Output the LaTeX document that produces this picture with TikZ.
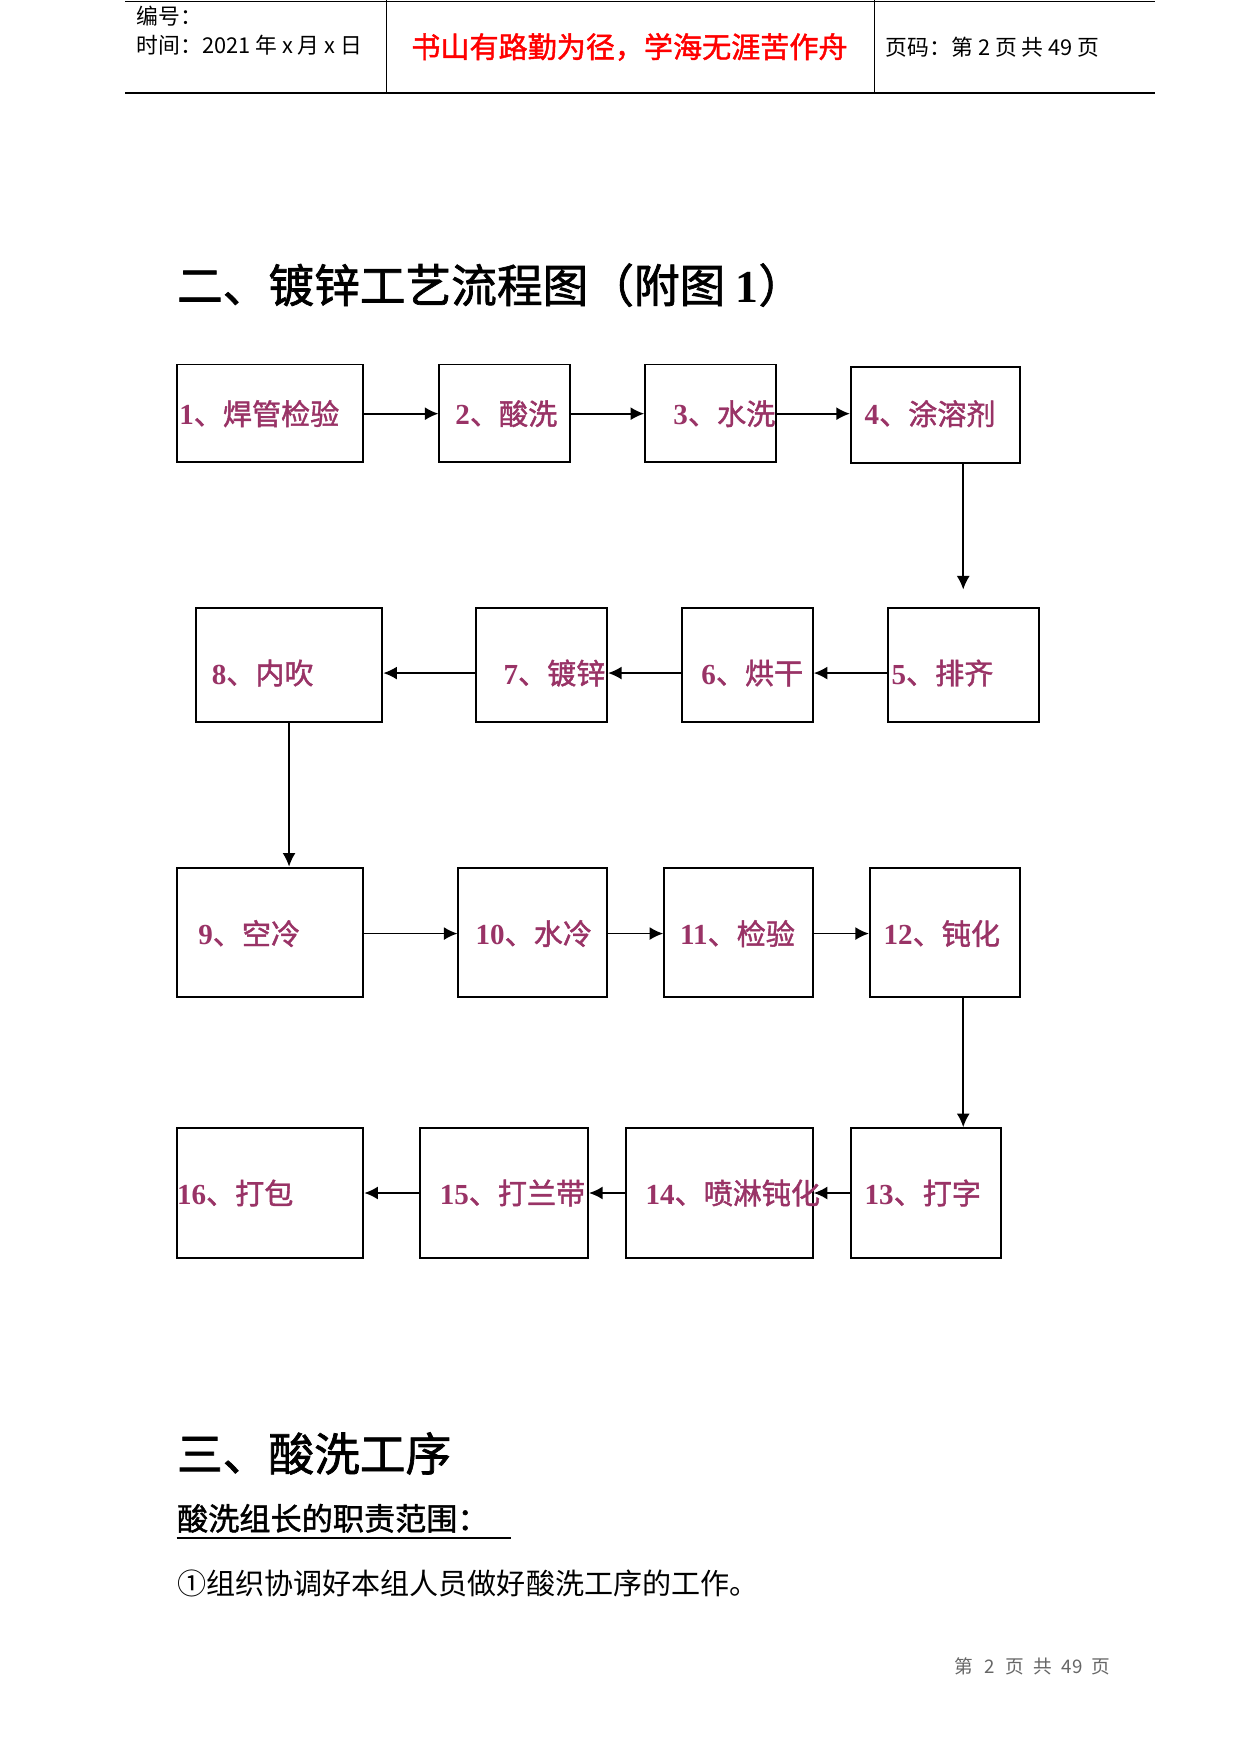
\documentclass[tikz,border=0pt]{standalone}
\usepackage{fontspec}
\setmainfont{Liberation Serif}
\newfontfamily\cjk{Noto Sans CJK SC}
\newfontfamily\cjkb[FakeBold=1.5]{Noto Sans CJK SC}
\usetikzlibrary{arrows.meta}
\definecolor{labelplum}{RGB}{153,51,102}
\newcommand{\steptext}[2]{{\bfseries #1}{\cjkb 、#2}}

\begin{document}
\begin{tikzpicture}[>={Latex[length=2.3mm,width=2.2mm]},
		box_style/.style={rectangle,draw=black,line width=0.9pt,inner sep=0pt},
		label_style/.style={anchor=west,inner sep=0pt,text=labelplum,font=\fontsize{14}{16}\selectfont},
		head_style/.style={anchor=west,inner sep=0pt,font=\cjk\fontsize{10.5}{12}\selectfont},
		title_style/.style={anchor=west,inner sep=0pt,font=\fontsize{22}{26}\selectfont},
		edge_style/.style={->,draw=black,line width=0.85pt}]
		
		\useasboundingbox (0,0) rectangle (21,-29.68);
		
		% header
		\draw[line width=0.6pt] (2.119,-0.03) -- (19.543,-0.03);
		\draw[line width=0.8pt] (2.119,-1.570) -- (19.543,-1.570);
		\draw[line width=0.5pt] (6.546,0) -- (6.546,-1.570);
		\draw[line width=0.5pt] (14.795,0) -- (14.795,-1.570);
		\node[head_style] (h1) at (2.308,-0.265) {编号：};
		\node[head_style] (h2) at (2.308,-0.757) {时间：2021 年 x 月 x 日};
		\node[inner sep=0pt,text=red,font=\cjkb\fontsize{14}{16}\selectfont] (h3) at (10.651,-0.795) {书山有路勤为径，学海无涯苦作舟};
		\node[head_style] (h4) at (14.984,-0.795) {页码：第 2 页 共 49 页};
		
		\node[title_style] (t1) at (2.989,-4.824) {{\cjkb 二、镀锌工艺流程图（附图 }{\bfseries 1}{\cjkb ）}};
		
		% boxes
		\node[box_style,minimum width=3.159cm,minimum height=1.646cm] (b1) at (4.569,-6.991) {};
		\node[box_style,minimum width=2.214cm,minimum height=1.646cm] (b2) at (8.542,-6.991) {};
		\node[box_style,minimum width=2.214cm,minimum height=1.646cm] (b3) at (12.023,-6.991) {};
		\node[box_style,minimum width=2.857cm,minimum height=1.627cm] (b4) at (15.826,-7.019) {};
		\node[box_style,minimum width=2.554cm,minimum height=1.930cm] (b5) at (16.299,-11.257) {};
		\node[box_style,minimum width=2.214cm,minimum height=1.930cm] (b6) at (12.647,-11.257) {};
		\node[box_style,minimum width=2.214cm,minimum height=1.930cm] (b7) at (9.166,-11.257) {};
		\node[box_style,minimum width=3.159cm,minimum height=1.930cm] (b8) at (4.891,-11.257) {};
		\node[box_style,minimum width=3.159cm,minimum height=2.195cm] (b9) at (4.569,-15.778) {};
		\node[box_style,minimum width=2.516cm,minimum height=2.195cm] (b10) at (9.015,-15.778) {};
		\node[box_style,minimum width=2.516cm,minimum height=2.195cm] (b11) at (12.496,-15.778) {};
		\node[box_style,minimum width=2.535cm,minimum height=2.195cm] (b12) at (15.987,-15.778) {};
		\node[box_style,minimum width=2.535cm,minimum height=2.195cm] (b13) at (15.665,-20.187) {};
		\node[box_style,minimum width=3.159cm,minimum height=2.195cm] (b14) at (12.174,-20.187) {};
		\node[box_style,minimum width=2.838cm,minimum height=2.195cm] (b15) at (8.532,-20.187) {};
		\node[box_style,minimum width=3.159cm,minimum height=2.195cm] (b16) at (4.569,-20.187) {};
		
		% labels
		\node[label_style] (l1) at (3.027,-7.000) {\steptext{1}{焊管检验}};
		\node[label_style] (l2) at (7.700,-7.000) {\steptext{2}{酸洗}};
		\node[label_style] (l3) at (11.389,-7.000) {\steptext{3}{水洗}};
		\node[label_style] (l4) at (14.624,-7.000) {\steptext{4}{涂溶剂}};
		\node[label_style] (l5) at (15.079,-11.389) {\steptext{5}{排齐}};
		\node[label_style] (l6) at (11.862,-11.389) {\steptext{6}{烘干}};
		\node[label_style] (l7) at (8.514,-11.389) {\steptext{7}{镀锌}};
		\node[label_style] (l8) at (3.576,-11.389) {\steptext{8}{内吹}};
		\node[label_style] (l9) at (3.349,-15.797) {\steptext{9}{空冷}};
		\node[label_style] (l10) at (8.041,-15.797) {\steptext{10}{水冷}};
		\node[label_style] (l11) at (11.503,-15.797) {\steptext{11}{检验}};
		\node[label_style] (l12) at (14.946,-15.797) {\steptext{12}{钝化}};
		\node[label_style] (l13) at (14.624,-20.187) {\steptext{13}{打字}};
		\node[label_style] (l14) at (10.916,-20.187) {\steptext{14}{喷淋钝化}};
		\node[label_style] (l15) at (7.435,-20.187) {\steptext{15}{打兰带}};
		\node[label_style] (l16) at (2.989,-20.187) {\steptext{16}{打包}};
		
		% arrows
		\draw[edge_style] (b1.east |- l1) -- (b2.west |- l1);
		\draw[edge_style] (b2.east |- l1) -- (b3.west |- l1);
		\draw[edge_style] (b3.east |- l1) -- (b4.west |- l1);
		\draw[edge_style] (b4.south -| b5) -- ([yshift=0.3cm]b5.north);
		\draw[edge_style] (b5.west |- l5) -- (b6.east |- l5);
		\draw[edge_style] (b6.west |- l5) -- (b7.east |- l5);
		\draw[edge_style] (b7.west |- l5) -- (b8.east |- l5);
		\draw[edge_style] (b8.south) -- (b8.south |- b9.north);
		\draw[edge_style] (b9.east |- l9) -- (b10.west |- l9);
		\draw[edge_style] (b10.east |- l9) -- (b11.west |- l9);
		\draw[edge_style] (b11.east |- l9) -- (b12.west |- l9);
		\draw[edge_style] (b12.south -| b5) -- (b13.north -| b5);
		\draw[edge_style] (b13.west |- l13) -- (b14.east |- l13);
		\draw[edge_style] (b14.west |- l13) -- (b15.east |- l13);
		\draw[edge_style] (b15.west |- l13) -- (b16.east |- l13);
		
		% section text
		\node[title_style] (t2) at (2.989,-24.595) {\cjkb 三、酸洗工序};
		\node[anchor=west,inner sep=0pt,font=\cjkb\fontsize{15}{18}\selectfont] (t3) at (2.989,-25.692) {酸洗组长的职责范围：};
		\draw[line width=0.8pt] ([yshift=-0.08cm]t3.south west) -- ([yshift=-0.08cm]t3.south west -| 8.646,0);
		\node[anchor=west,inner sep=0pt,font=\cjk\fontsize{14}{16}\selectfont] (t4) at (2.989,-26.789) {①组织协调好本组人员做好酸洗工序的工作。};
		\node[anchor=west,inner sep=0pt,text=black!60,font=\cjk\fontsize{9}{11}\selectfont] (f1) at (16.138,-28.189) {第\hspace{0.6em}2\hspace{0.6em}页\hspace{0.5em}共\hspace{0.5em}49\hspace{0.5em}页};
		
\end{tikzpicture}
\end{document}
